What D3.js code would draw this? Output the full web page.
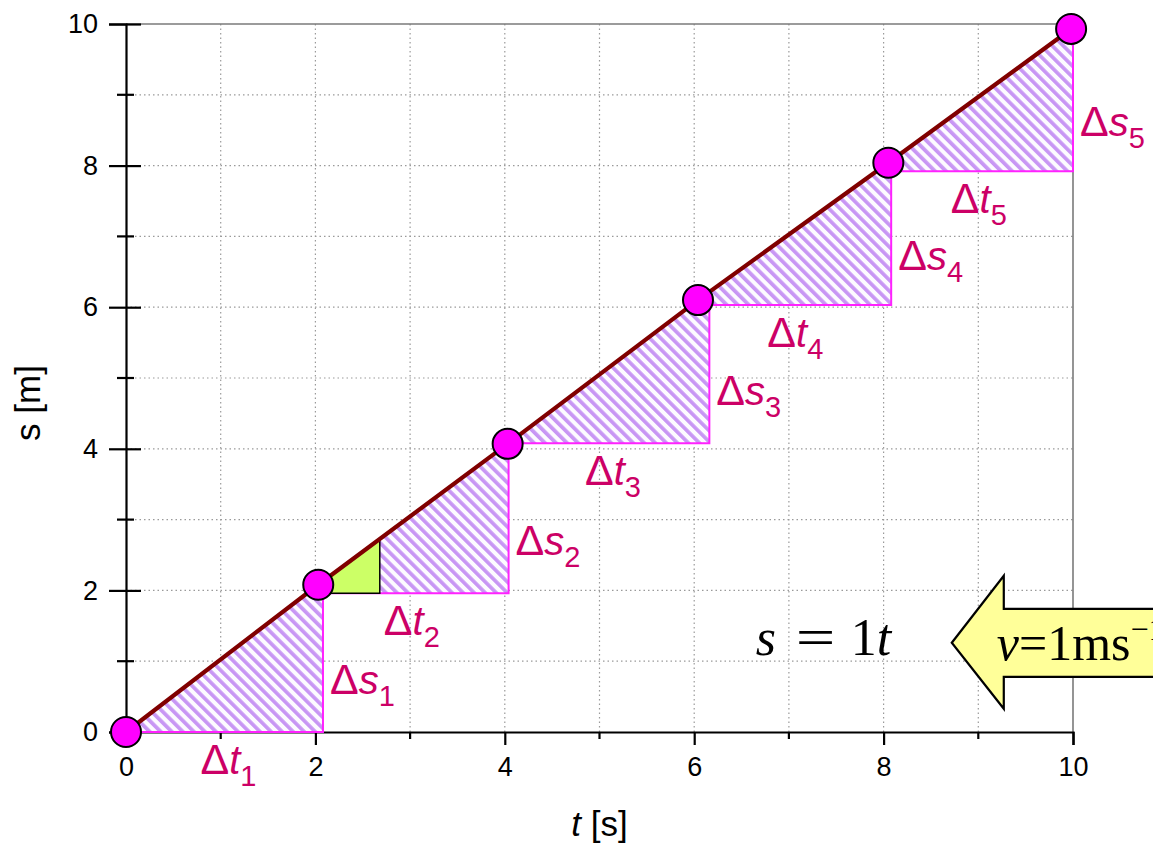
<!DOCTYPE html>
<html>
<head>
<meta charset="utf-8">
<script src="https://cdn.jsdelivr.net/npm/d3@7"></script>
<style>
  html, body { margin: 0; padding: 0; background: #fff; }
  svg { display: block; }
</style>
</head>
<body>
<svg id="chart" width="1153" height="845"></svg>
<script>
// Measured positions (t in s, s in m)
const pointT = [0, 2.03, 4.03, 6.04, 8.05, 9.98];
const pointS = [0, 2.08, 4.07, 6.10, 8.04, 9.93];

// Step triangles: horizontal base level and right-hand end time
const stepBase = [0, 1.96, 4.08, 6.03, 7.92];
const stepEnd  = [2.08, 4.04, 6.16, 8.08, 10.0];
const stepIndex = ["1", "2", "3", "4", "5"];

// Small highlighted triangle on the second step
const greenBase = 1.96;
const greenEnd = 2.68;

const xTicks = [0, 2, 4, 6, 8, 10];
const yTicks = [0, 2, 4, 6, 8, 10];
const gridVals = [1, 2, 3, 4, 5, 6, 7, 8, 9];

const svg = d3.select("#chart");
const x = d3.scaleLinear().domain([0, 10]).range([126, 1073]);
const y = d3.scaleLinear().domain([0, 10]).range([732, 24]);

const labelColor = "#cc0066";

// s along the straight line through the points
const pts = pointT.map((t, i) => ({ t, s: pointS[i] }));
function lineS(t) {
  for (let i = 0; i < pts.length - 1; i++) {
    if (t <= pts[i + 1].t || i === pts.length - 2) {
      const a = pts[i], b = pts[i + 1];
      return a.s + (b.s - a.s) * (t - a.t) / (b.t - a.t);
    }
  }
}
function lineT(s) {
  for (let i = 0; i < pts.length - 1; i++) {
    if (s <= pts[i + 1].s || i === pts.length - 2) {
      const a = pts[i], b = pts[i + 1];
      return a.t + (b.t - a.t) * (s - a.s) / (b.s - a.s);
    }
  }
}

// Hatch pattern
const defs = svg.append("defs");
const pat = defs.append("pattern")
  .attr("id", "hatch")
  .attr("patternUnits", "userSpaceOnUse")
  .attr("width", 7.8).attr("height", 7.8)
  .attr("patternTransform", "rotate(-45)");
pat.append("rect").attr("width", 7.8).attr("height", 7.8).attr("fill", "#fdfbff");
pat.append("rect").attr("width", 3.7).attr("height", 7.8).attr("fill", "#c896f4");

// Grid
const grid = svg.append("g");
grid.selectAll(".gx").data(gridVals).join("line")
  .attr("x1", d => x(d)).attr("x2", d => x(d))
  .attr("y1", y(0)).attr("y2", y(10))
  .attr("stroke", "#9a9a9a").attr("stroke-width", 1.2)
  .attr("stroke-dasharray", "1.5,3");
grid.selectAll(".gy").data(gridVals).join("line")
  .attr("y1", d => y(d)).attr("y2", d => y(d))
  .attr("x1", x(0)).attr("x2", x(10))
  .attr("stroke", "#9a9a9a").attr("stroke-width", 1.2)
  .attr("stroke-dasharray", "1.5,3");

// Frame (top and right)
svg.append("line").attr("x1", x(0)).attr("x2", x(10)).attr("y1", y(10)).attr("y2", y(10))
  .attr("stroke", "#7a7a7a").attr("stroke-width", 1.6);
svg.append("line").attr("x1", x(10)).attr("x2", x(10)).attr("y1", y(10)).attr("y2", y(0))
  .attr("stroke", "#7a7a7a").attr("stroke-width", 1.6);

// Axes
const xAxis = d3.axisBottom(x).tickValues(xTicks).tickSize(13).tickPadding(12)
  .tickFormat(d3.format("d"));
const gx = svg.append("g").attr("transform", `translate(0,${y(0)})`).call(xAxis);
gx.select(".domain").attr("stroke", "#000").attr("stroke-width", 2.2);
gx.selectAll(".tick line").attr("stroke", "#000").attr("stroke-width", 2.2);
gx.selectAll(".tick text").attr("font-family", "Liberation Sans, Arial, sans-serif")
  .attr("font-size", 27).attr("fill", "#000").attr("dy", "0.71em");
const xMinor = d3.range(1, 10, 2);
gx.selectAll(".minor").data(xMinor).join("line")
  .attr("x1", d => x(d)).attr("x2", d => x(d)).attr("y1", 0).attr("y2", 7)
  .attr("stroke", "#000").attr("stroke-width", 2.2);

const yAxis = d3.axisLeft(y).tickValues(yTicks).tickSize(17).tickPadding(10)
  .tickFormat(d3.format("d"));
const gy = svg.append("g").attr("transform", `translate(${x(0)},0)`).call(yAxis);
gy.select(".domain").attr("stroke", "#000").attr("stroke-width", 2.2);
gy.selectAll(".tick line").attr("stroke", "#000").attr("stroke-width", 2.2).attr("x2", 15).attr("x1", -17);
gy.selectAll(".tick text").attr("font-family", "Liberation Sans, Arial, sans-serif")
  .attr("font-size", 27).attr("fill", "#000").attr("x", -28);
const yMinor = d3.range(1, 10, 2);
gy.selectAll(".minor").data(yMinor).join("line")
  .attr("y1", d => y(d)).attr("y2", d => y(d)).attr("x1", -9).attr("x2", 8)
  .attr("stroke", "#000").attr("stroke-width", 2.2);

// Hatched step triangles
const steps = stepBase.map((b, i) => ({
  base: b, end: stepEnd[i], start: lineT(b), top: lineS(stepEnd[i]), idx: stepIndex[i]
}));
const stepG = svg.append("g");
stepG.selectAll("path.tri").data(steps).join("path")
  .attr("d", d => `M${x(d.start)},${y(d.base)}L${x(d.end)},${y(d.base)}L${x(d.end)},${y(d.top)}Z`)
  .attr("fill", "url(#hatch)").attr("stroke", "none");
stepG.selectAll("path.edge").data(steps).join("path")
  .attr("d", d => `M${x(d.start)},${y(d.base)}L${x(d.end)},${y(d.base)}L${x(d.end)},${y(d.top)}`)
  .attr("fill", "none").attr("stroke", "#ff22ff").attr("stroke-width", 2);

// Highlighted triangle
const gs = lineT(greenBase), gTop = lineS(greenEnd);
svg.append("path")
  .attr("d", `M${x(gs)},${y(greenBase)}L${x(greenEnd)},${y(greenBase)}L${x(greenEnd)},${y(gTop)}Z`)
  .attr("fill", "#ccff66").attr("stroke", "#000").attr("stroke-width", 1.5);

// Straight line and points
svg.append("path").datum(pts)
  .attr("d", d3.line().x(d => x(d.t)).y(d => y(d.s)))
  .attr("fill", "none").attr("stroke", "#800000").attr("stroke-width", 4.2);
svg.selectAll("circle.pt").data(pts).join("circle")
  .attr("cx", d => x(d.t)).attr("cy", d => y(d.s)).attr("r", 15)
  .attr("fill", "#ff00ff").attr("stroke", "#000").attr("stroke-width", 2);

// Step labels
function deltaLabel(sel, letter, idx) {
  sel.attr("font-family", "Liberation Sans, Arial, sans-serif").attr("font-size", 40).attr("fill", labelColor);
  sel.append("tspan").attr("font-size", 43).text("Δ");
  sel.append("tspan").attr("font-style", "italic").text(letter);
  sel.append("tspan").attr("font-size", 29).attr("dy", 12).text(idx);
}
steps.forEach(d => {
  const tl = svg.append("text")
    .attr("x", (x(d.start) + x(d.end)) / 2 + 4).attr("y", y(d.base) + 42)
    .attr("text-anchor", "middle");
  deltaLabel(tl, "t", d.idx);
  const sl = svg.append("text")
    .attr("x", x(d.end) + 7).attr("y", (y(d.base) + y(d.top)) / 2 + 37)
    .attr("text-anchor", "start");
  deltaLabel(sl, "s", d.idx);
});

// Equation
const eqX = x(6.65), eqY = y(1.09);
const eq = svg.append("g").attr("font-family", "Liberation Serif, Times New Roman, serif")
  .attr("font-size", 52).attr("fill", "#000");
eq.append("text").attr("x", eqX).attr("y", eqY).attr("font-style", "italic").text("s");
eq.append("text").attr("transform", `translate(${eqX + 40},${eqY}) scale(1.35,1)`).text("=");
eq.append("text").attr("x", eqX + 95).attr("y", eqY).text("1");
eq.append("text").attr("x", eqX + 121).attr("y", eqY).attr("font-style", "italic").text("t");

// Velocity arrow
const tipX = x(8.72), tipY = y(1.26);
const arrow = [[0, 0], [52, -67], [52, -34], [260, -34], [260, 34], [52, 34], [52, 66]];
svg.append("path")
  .attr("d", "M" + arrow.map(p => `${tipX + p[0]},${tipY + p[1]}`).join("L") + "Z")
  .attr("fill", "#ffff99").attr("stroke", "#000").attr("stroke-width", 2.2)
  .attr("stroke-linejoin", "miter");
const vt = svg.append("text").attr("x", tipX + 45).attr("y", tipY + 17)
  .attr("font-family", "Liberation Serif, Times New Roman, serif")
  .attr("font-size", 50).attr("fill", "#000");
vt.append("tspan").attr("font-style", "italic").text("v");
vt.append("tspan").text("=1ms");
vt.append("tspan").attr("font-size", 32).attr("dy", -20).text("−1");

// Axis titles
const xt = svg.append("text").attr("x", (x(0) + x(10)) / 2).attr("y", 836)
  .attr("text-anchor", "middle").attr("font-family", "Liberation Sans, Arial, sans-serif")
  .attr("font-size", 35).attr("fill", "#000");
xt.append("tspan").attr("font-style", "italic").text("t");
xt.append("tspan").text(" [s]");

const yt = svg.append("text").attr("transform", `translate(40,${(y(0) + y(10)) / 2 + 25}) rotate(-90)`)
  .attr("text-anchor", "middle").attr("font-family", "Liberation Sans, Arial, sans-serif")
  .attr("font-size", 35).attr("fill", "#000");
yt.append("tspan").text("s [m]");
</script>
</body>
</html>
